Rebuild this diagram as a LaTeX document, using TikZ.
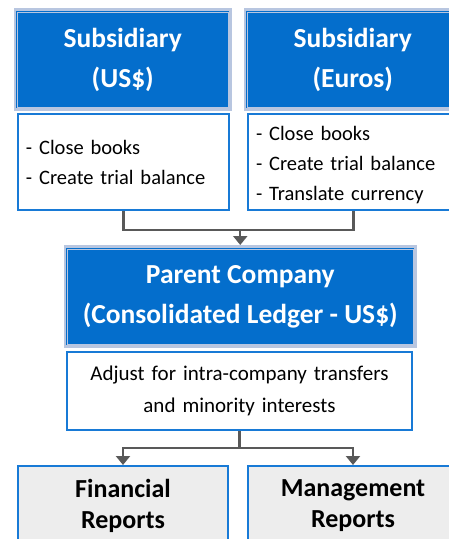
\documentclass[tikz,border=0pt]{standalone}
\usepackage{fontspec}
\setmainfont{Carlito}
\newfontfamily\headfont{Carlito}
\usetikzlibrary{arrows.meta,calc}
\definecolor{boxblue}{RGB}{4,110,204}
\definecolor{framegray}{RGB}{184,198,224}
\definecolor{lineblue}{RGB}{24,122,214}
\definecolor{reportgray}{RGB}{237,237,237}
\definecolor{linkgray}{RGB}{89,89,89}
\begin{document}
\begin{tikzpicture}
[
x=1pt, y=-1pt,
style0/.style={rectangle, fill=boxblue, draw=boxblue, double=framegray, double distance=0.8pt, line width=1pt, preaction={draw=framegray, line width=8pt}, text=white, align=center, font=\headfont\bfseries\fontsize{27.5}{40}\selectfont, inner sep=0pt, outer sep=4pt, minimum height=95pt},
style1/.style={rectangle, draw=lineblue, line width=2pt, fill=white, text=black, font=\fontsize{20.5}{30}\selectfont, inner xsep=8pt, inner ysep=0pt, text width=195pt, align=left, minimum height=96pt},
style2/.style={rectangle, draw=lineblue, line width=2pt, fill=reportgray, text=black, align=center, font=\bfseries\fontsize{26}{31}\selectfont, inner sep=0pt, minimum height=80pt},
style3/.style={draw=linkgray, line width=2.4pt},
style4/.style={style3, -{Triangle[width=14pt,length=9pt]}}
]
\useasboundingbox (0,0) rectangle (449,539);
\clip (0,0) rectangle (449,539);
% subsidiaries
\node (A) [style0, minimum width=210.5pt] at (122.75,59.5) {Subsidiary\\(US\$)};
\node (B) [style0, minimum width=210.5pt] at (352.75,59.5) {Subsidiary\\(Euros)};
\node (C) [style1] at (123.5,162) {- Close books\\- Create trial balance};
\node (D) [style1] at (353.5,162) {};
\begin{scope}
\clip (D.north west) rectangle ($(D.south east)+(0,-8)$);
\node (Dt) [style1, draw=none, fill=none] at ($(D)+(0,3)$) {- Close books\\- Create trial balance\\- Translate currency};
\end{scope}
% parent
\node (E) [style0, minimum width=345.5pt] at (240.25,296.5) {Parent Company\\(Consolidated Ledger - US\$)};
\node (F) [style1, text width=329pt, align=center, minimum height=78pt, font=\fontsize{21}{32}\selectfont] at (239.5,391) {Adjust for intra-company transfers\\and minority interests};
% reports
\node (G) [style2, minimum width=210pt] at (123,506) {Financial\\Reports};
\node (H) [style2, minimum width=211pt] at (353,506) {Management\\Reports};
\coordinate (J1) at (E.north |- 0,230);
\coordinate (J2) at ($(F.south)+(0,17)$);
\draw [style3] (C.south) |- (J1) -| (D.south);
\draw [style4] (J1) -- (E.north);
\draw [style3] (F.south) -- (J2);
\draw [style4] (J2) -| (G.north);
\draw [style4] (J2) -| (H.north);
\end{tikzpicture}
\end{document}
